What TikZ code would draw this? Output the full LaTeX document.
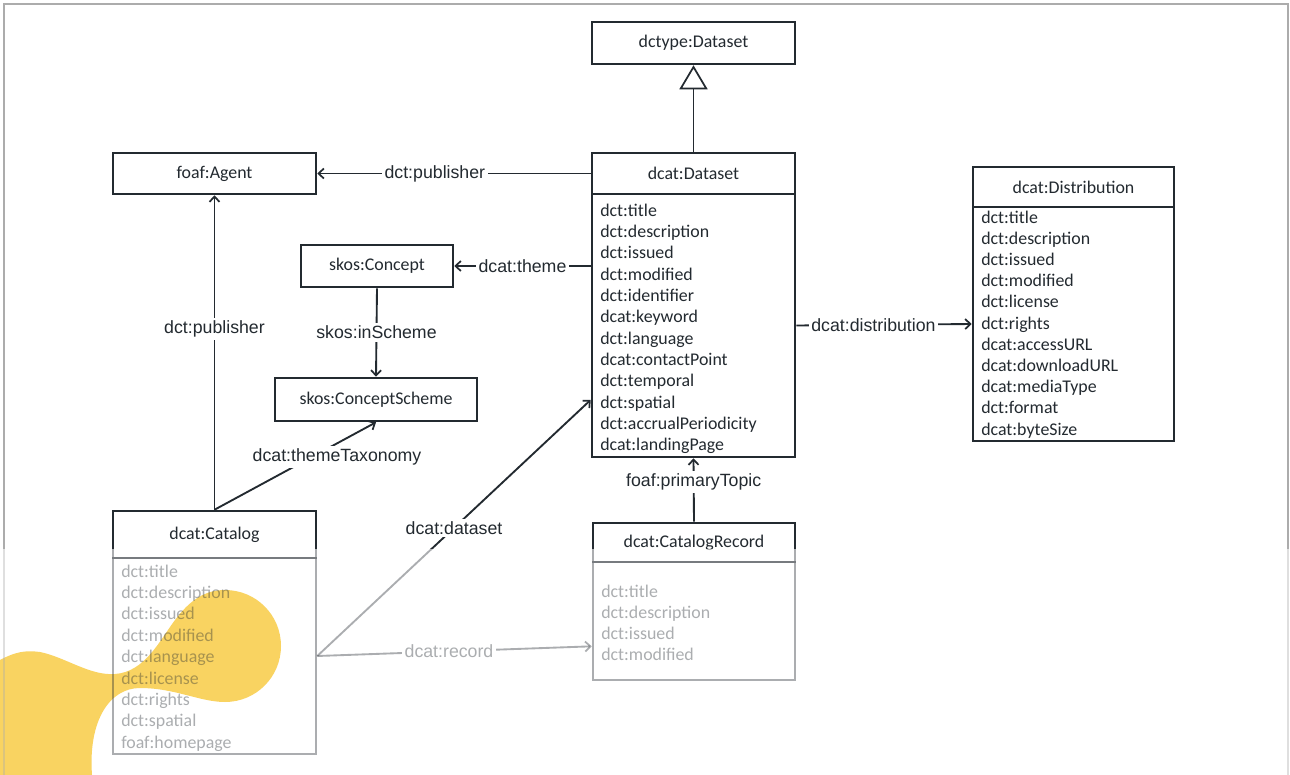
\documentclass[tikz,border=0pt]{standalone}
\usepackage{fontspec}
\setmainfont{Carlito}
\newfontfamily\lblfont{Liberation Sans}
\usetikzlibrary{arrows.meta,fit,calc}
\definecolor{ink}{RGB}{35,42,48}
\definecolor{framegray}{RGB}{172,172,172}
\definecolor{blobyellow}{RGB}{249,211,97}
\tikzset{
  boxline/.style={draw=ink, line width=1.9pt, inner sep=0pt},
  htext/.style={inner sep=0pt, font=\fontsize{13.4}{16}\selectfont, text=ink},
  item/.style={anchor=base west, inner sep=0pt, font=\fontsize{13.4}{16}\selectfont, text=ink},
  conn/.style={draw=ink, line width=1.4pt},
  arr/.style={conn, -{Straight Barb[length=4pt,width=7.5pt,line width=1.3pt]}},
  gen/.style={conn, -{Triangle[open,length=18pt,width=21pt,line width=1.3pt]}},
  fadefix/.style={},
  lbl/.style={fill=white, inner sep=2pt, font=\lblfont\fontsize{13.3}{16}\selectfont, text=ink, fadefix},
}
\newcommand\drawdiagram{%
  \draw[framegray, line width=1.5pt] (4,4) rectangle (1288,800);
  % class boxes
  \node[boxline, fit={(592,22)(795,64)}] (dctype) {};
  \node[htext] (dctype-t) at (dctype.center) {dctype:Dataset};
  \node[boxline, fit={(592,153)(795,194)}] (dsh) {};
  \node[htext] (dsh-t) at (dsh.center) {dcat:Dataset};
  \node[boxline, fit={(592,194)(795,457)}] (dsb) {};
  \foreach \t [count=\i] in {dct:title,dct:description,dct:issued,dct:modified,dct:identifier,dcat:keyword,dct:language,dcat:contactPoint,dct:temporal,dct:spatial,dct:accrualPeriodicity,dcat:landingPage}
    \node[item] (ds-\i) at (600,{216+21.36*(\i-1)}) {\t};
  \node[boxline, fit={(973,167)(1174,207)}] (dih) {};
  \node[htext] (dih-t) at (dih.center) {dcat:Distribution};
  \node[boxline, fit={(973,207)(1174,441)}] (dib) {};
  \foreach \t [count=\i] in {dct:title,dct:description,dct:issued,dct:modified,dct:license,dct:rights,dcat:accessURL,dcat:downloadURL,dcat:mediaType,dct:format,dcat:byteSize}
    \node[item] (di-\i) at (981,{223+21.2*(\i-1)}) {\t};
  \node[boxline, fit={(113,153)(316,194)}] (agent) {};
  \node[htext] (agent-t) at (agent.center) {foaf:Agent};
  \node[boxline, fit={(301,245)(453,287)}] (concept) {};
  \node[htext] (concept-t) at (concept.center) {skos:Concept};
  \node[boxline, fit={(275,378)(477,421)}] (scheme) {};
  \node[htext] (scheme-t) at (scheme.center) {skos:ConceptScheme};
  \node[boxline, fit={(113,511)(316,558)}] (cath) {};
  \node[htext] (cath-t) at (cath.center) {dcat:Catalog};
  \node[boxline, fit={(113,558)(316,754)}] (catb) {};
  \foreach \t [count=\i] in {dct:title,dct:description,dct:issued,dct:modified,dct:language,dct:license,dct:rights,dct:spatial,foaf:homepage}
    \node[item] (ca-\i) at (121,{577+21.4*(\i-1)}) {\t};
  \node[boxline, fit={(593,523)(795,562)}] (crh) {};
  \node[htext] (crh-t) at (crh.center) {dcat:CatalogRecord};
  \node[boxline, fit={(593,562)(795,680)}] (crb) {};
  \foreach \t [count=\i] in {dct:title,dct:description,dct:issued,dct:modified}
    \node[item] (cr-\i) at (601,{597+21*(\i-1)}) {\t};
  % connectors
  \draw[gen] (dsh.north) -- (dctype.south);
  \draw[arr] (dsh.west) -- node[lbl, pos=0.57] (lpubA) {dct:publisher} (agent.east);
  \draw[arr] (dsb.west |- concept.east) -- node[lbl] (ltheme) {dcat:theme} (concept.east);
  \draw[arr] (concept.south) -- node[lbl] (linsch) {skos:inScheme} (scheme.north);
  \draw[arr] (cath.north) -- node[lbl, pos=0.574] (lpubB) {dct:publisher} (agent.south);
  \draw[arr] (cath.north) -- (scheme.south);
  \node[lbl] (ltax) at (337,457) {dcat:themeTaxonomy};
  \draw[arr] (catb.east) -- node[lbl] (ldset) {dcat:dataset} ($(dsb.north west)!0.78!(dsb.south west)$);
  \draw[arr] (catb.east) -- node[lbl, pos=0.48] (lrec) {dcat:record} ($(crb.north west)!0.71!(crb.south west)$);
  \draw[arr] (crh.north) -- node[lbl, pos=0.62] (lptop) {foaf:primaryTopic} (dsb.south);
  \draw[arr] (dsb.east) -- node[lbl, pos=0.44] (ldist) {dcat:distribution} (dib.west);
}
\begin{document}
\begin{tikzpicture}[x=0.75pt,y=-0.75pt]
  \useasboundingbox (0,0) rectangle (1290,775);
  \fill[white] (0,0) rectangle (1290,775);
  \begin{scope}
    \clip (0,0) rectangle (1290,548);
    \drawdiagram
  \end{scope}
  \fill[blobyellow] (0,660)
    .. controls (15,652) and (25,650) .. (40,652)
    .. controls (65,657) and (90,676) .. (115,674)
    .. controls (145,672) and (160,640) .. (175,620)
    .. controls (190,600) and (205,590) .. (225,590)
    .. controls (256,590) and (281,615) .. (281,646)
    .. controls (281,677) and (256,702) .. (225,702)
    .. controls (200,702) and (175,688) .. (140,688)
    .. controls (110,688) and (88,720) .. (92,775)
    -- (0,775) -- cycle;
  \begin{scope}[fadefix/.style={fill opacity=1, text opacity=0.38}]
    \clip (0,548) rectangle (1290,775);
    \begin{scope}[opacity=0.38]
      \drawdiagram
    \end{scope}
  \end{scope}
\end{tikzpicture}
\end{document}
